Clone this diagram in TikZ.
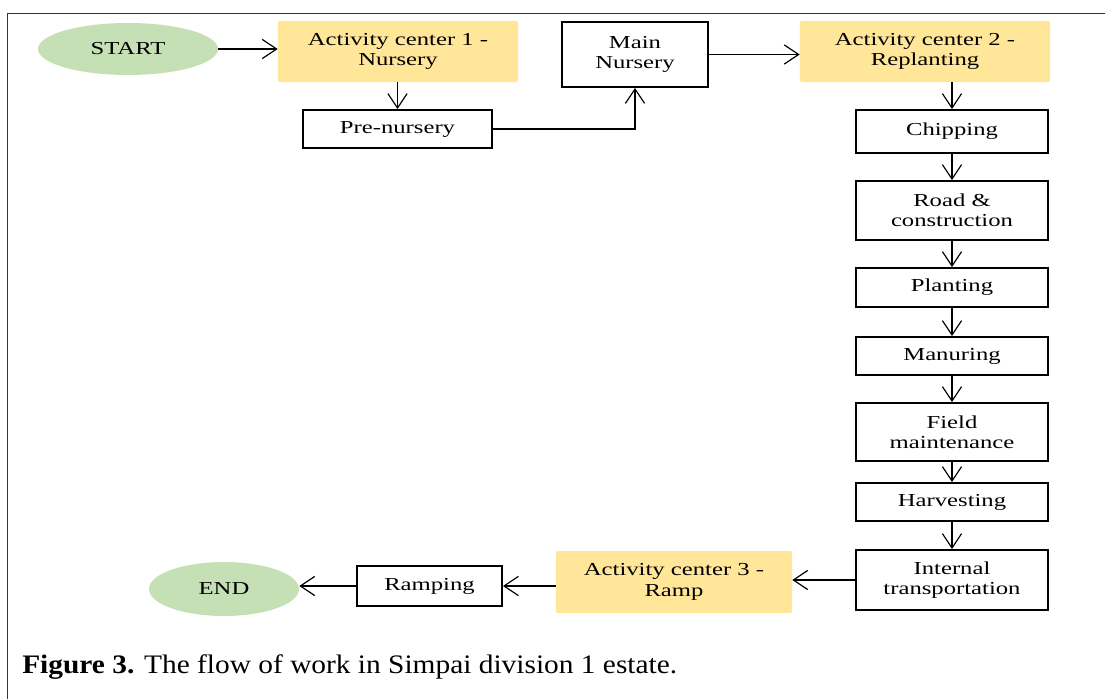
\documentclass[tikz,border=0pt]{standalone}
\usepackage{fontspec}
\setmainfont{Liberation Serif}[FakeStretch=1.35]
\newfontfamily\capfont{Liberation Serif}[FakeStretch=1.1]
\usetikzlibrary{arrows.meta,shapes.geometric}

\definecolor{acyellow}{HTML}{FFE699}
\definecolor{termgreen}{HTML}{C5E0B4}

\tikzset{
    activity/.style={fill=acyellow, rounded corners=1pt, align=center, inner sep=0pt},
    task/.style={draw, line width=1.3pt, align=center, inner sep=0pt, minimum width=4.8cm},
    terminal/.style={ellipse, fill=termgreen, inner sep=0pt},
    flow/.style={-{Straight Barb[length=3.6mm,width=4.8mm]}, line width=0.85pt},
    every node/.style={font=\fontsize{13pt}{14.5pt}\selectfont}
}

\begin{document}
\begin{tikzpicture}[x=0.025cm, y=-0.025cm]
    \useasboundingbox (0,0) rectangle (1105,699);
    % Frame round the figure.
        \draw[black!80, semithick] (1105,13) -- (7,13) -- (7,699);
    % Top row.
        \node[terminal, minimum width=4.5cm, minimum height=1.3cm] (start) at (128,49) {START};
        \node[activity, minimum width=6cm, minimum height=1.525cm] (ac1) at (398,51.5) {Activity center 1 -\\Nursery};
        \node[task, minimum width=4.725cm, minimum height=0.95cm] (prenursery) at (397.5,129) {Pre-nursery};
        \node[task, minimum width=3.65cm, minimum height=1.625cm] (mainnursery) at (635,54.5) {Main\\Nursery};
        \node[activity, minimum width=6.25cm, minimum height=1.525cm] (ac2) at (925,51.5) {Activity center 2 -\\Replanting};
    % Right column.
        \node[task, minimum height=1.075cm] (chipping) at (952,131.5) {Chipping};
        \node[task, minimum height=1.475cm] (road) at (952,210.5) {Road \&\\construction};
        \node[task, minimum height=0.975cm] (planting) at (952,287.5) {Planting};
        \node[task, minimum height=0.95cm] (manuring) at (952,356) {Manuring};
        \node[task, minimum height=1.45cm] (field) at (952,432) {Field\\maintenance};
        \node[task, minimum height=0.95cm] (harvesting) at (952,502) {Harvesting};
        \node[task, minimum height=1.5cm] (transport) at (952,580) {Internal\\transportation};
    % Bottom row.
        \node[activity, minimum width=5.9cm, minimum height=1.55cm] (ac3) at (674,582) {Activity center 3 -\\Ramp};
        \node[task, minimum width=3.625cm, minimum height=1cm] (ramping) at (429.5,586) {Ramping};
        \node[terminal, minimum width=3.75cm, minimum height=1.35cm] (finish) at (224,589) {END};
    % Connectors.
        \draw[flow] (start.east) -- (start.east -| ac1.west);
        \draw[flow] (ac1.south -| prenursery) -- (prenursery.north);
        \draw[flow] (prenursery.east) -| (mainnursery.south);
        \draw[flow] (mainnursery.east) -- (mainnursery.east -| ac2.west);
        \draw[flow] (ac2.south -| chipping) -- (chipping.north);
        \foreach \a/\b in {chipping/road, road/planting, planting/manuring, manuring/field, field/harvesting, harvesting/transport}
            \draw[flow] (\a.south) -- (\b.north);
        \draw[flow] (transport.west) -- (transport.west -| ac3.east);
        \draw[flow] (ac3.west |- ramping.east) -- (ramping.east);
        \draw[flow] (ramping.west) -- (ramping.west -| finish.east);
    % Caption.
        \node[anchor=base west, inner sep=0pt, font=\capfont\fontsize{19pt}{22pt}\selectfont] (caption) at (22,673) {\textbf{Figure 3.} The flow of work in Simpai division 1 estate.};
\end{tikzpicture}
\end{document}
